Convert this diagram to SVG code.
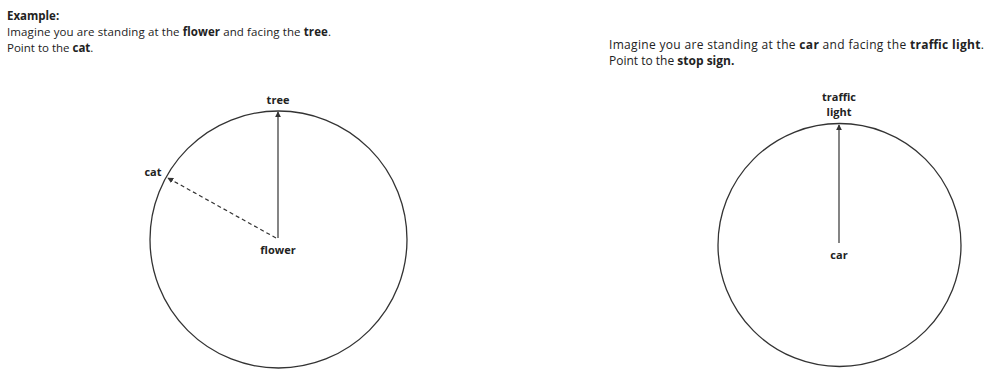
<svg xmlns="http://www.w3.org/2000/svg" width="987" height="370" viewBox="0 0 987 370">
<style>
text{font-family:"Open Sans","Liberation Sans",sans-serif;font-size:11.5px;fill:#222}
.r{font-size:12px}
.b{font-weight:bold}
.c{fill:none;stroke:#333;stroke-width:1.3}
.l{stroke:#333;stroke-width:1.2;fill:none}
.d{stroke-dasharray:4 3}
.m{text-anchor:middle}
.s{font-size:11px}
</style>
<defs>
<marker id="ah" viewBox="0 0 8 8" refX="7" refY="4" markerWidth="6" markerHeight="6" orient="auto" markerUnits="userSpaceOnUse">
<path d="M0,0 L8,4 L0,8 z" fill="#333"/>
</marker>
</defs>
<rect width="987" height="370" fill="#fff"/>
<g id="instructions-left">
<text x="7" y="20" class="b">Example:</text>
<text x="7" y="36" textLength="324" lengthAdjust="spacing">Imagine you are standing at the <tspan class="b">flower</tspan> and facing the <tspan class="b">tree</tspan>.</text>
<text x="7" y="52">Point to the <tspan class="b">cat</tspan>.</text>
</g>
<g id="instructions-right">
<text x="609" y="49" class="r" textLength="375" lengthAdjust="spacing">Imagine you are standing at the <tspan class="b">car</tspan> and facing the <tspan class="b">traffic light</tspan>.</text>
<text x="609" y="65" class="r">Point to the <tspan class="b">stop sign.</tspan></text>
</g>
<g id="circle-left"><circle cx="278.5" cy="239.5" r="128.5" class="c"/></g>
<g id="circle-right"><circle cx="839.5" cy="245" r="121.5" class="c"/></g>
<g id="tree"><text x="278" y="104" class="b m s">tree</text></g>
<g id="cat"><text x="153" y="176" class="b m s">cat</text></g>
<g id="flower"><text x="278" y="254" class="b m s">flower</text></g>
<g id="traffic-light"><text x="839" y="101" class="b m s">traffic</text><text x="839" y="116" class="b m s">light</text></g>
<g id="car"><text x="839" y="259" class="b m s">car</text></g>
<g id="connectors">
<line x1="278" y1="238" x2="278" y2="112" class="l" marker-end="url(#ah)"/>
<line x1="276" y1="238" x2="168" y2="178" class="l d" marker-end="url(#ah)"/>
<line x1="839" y1="243" x2="839" y2="125" class="l" marker-end="url(#ah)"/>
</g>
</svg>
